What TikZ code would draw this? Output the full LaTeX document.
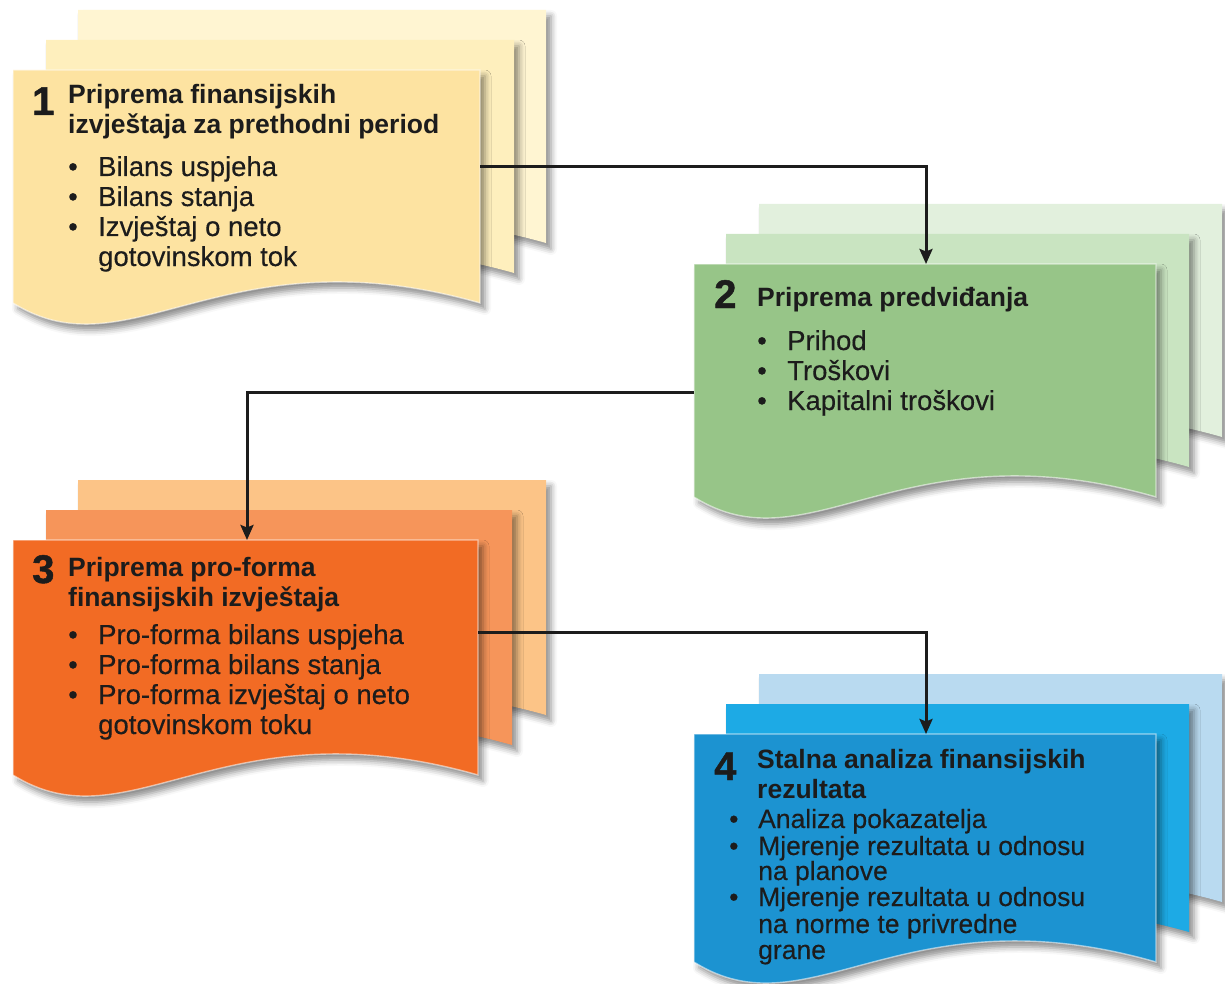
\documentclass[tikz,border=0pt]{standalone}
\usepackage{fontspec}
\setmainfont{Liberation Sans}
\newfontfamily\heavyfont[FakeBold=1.2]{Liberation Sans Bold}
\newfontfamily\itemfont[FakeBold=0.3]{Liberation Sans}
\usetikzlibrary{arrows.meta,calc,shadows.blur}

\definecolor{ylwA}{HTML}{FDE3A1}
\definecolor{ylwB}{HTML}{FEEFBD}
\definecolor{ylwC}{HTML}{FFF5D2}
\definecolor{grnA}{HTML}{97C588}
\definecolor{grnB}{HTML}{C9E4C1}
\definecolor{grnC}{HTML}{E2F0DD}
\definecolor{orgA}{HTML}{F26B24}
\definecolor{orgB}{HTML}{F6955A}
\definecolor{orgC}{HTML}{FCC487}
\definecolor{bluA}{HTML}{1C93D1}
\definecolor{bluB}{HTML}{1DAAE5}
\definecolor{bluC}{HTML}{B9DAF0}
\definecolor{txt}{HTML}{1C1C1C}

\tikzset{
  sheetshadow/.style={blur shadow={shadow xshift=5pt, shadow yshift=-6pt, shadow blur radius=6pt, shadow opacity=45}},
  frontedge/.style={draw=white, draw opacity=0.55, line width=1.4pt},
  ttl/.style={anchor=base west, inner sep=0pt, text=txt, align=left, font=\fontsize{26.5}{30}\bfseries\selectfont},
  itm/.style={anchor=base west, inner sep=0pt, text=txt, font=\fontsize{27.5}{30}\itemfont},
  itmsm/.style={anchor=base west, inner sep=0pt, text=txt, font=\fontsize{26.5}{26}\itemfont},
  num/.style={anchor=base west, inner sep=0pt, text=txt, font=\fontsize{40}{40}\heavyfont},
  conn/.style={draw=txt, line width=3pt, -{Stealth[length=15pt,width=13pt,inset=2.5pt]}},
  sheetbox/.style={draw=none, fill=none, inner sep=0pt, anchor=north west, minimum width=#1},
}

% x, y, w, h, colour, extra options
\newcommand{\docsheet}[6]{%
  \path[fill=#5, sheetshadow, #6] (#1,#2) -- ({#1+#3},#2) -- ({#1+#3},{#2+#4})
    .. controls ({#1+0.45*#3},{#2+#4-73}) and ({#1+0.25*#3},{#2+#4+73}) .. (#1,{#2+#4}) -- cycle;}
\newcommand{\bul}{\makebox[30pt][l]{•}}
\newcommand{\bulsm}{\makebox[29pt][l]{•}}

\begin{document}
\begin{tikzpicture}[x=1pt, y=-1pt]
\useasboundingbox (0,0) rectangle (1225,984);

% ---------- stack 1 (yellow)
\docsheet{78}{10}{468}{233}{ylwC}{}
\docsheet{46}{40}{468}{233}{ylwB}{}
\docsheet{13}{70}{467}{233}{ylwA}{frontedge}
\node[sheetbox=467pt, minimum height=233pt] (f1) at (13,70) {};

% ---------- stack 2 (green)
\docsheet{759}{204}{463}{233}{grnC}{}
\docsheet{726}{234}{463}{233}{grnB}{}
\docsheet{694}{264}{462}{233}{grnA}{frontedge}
\node[sheetbox=462pt, minimum height=233pt] (f2) at (694,264) {};

% ---------- stack 3 (orange)
\docsheet{78}{480}{468}{235}{orgC}{}
\docsheet{46}{510}{466}{235}{orgB}{}
\docsheet{13}{540}{465}{235}{orgA}{frontedge}
\node[sheetbox=465pt, minimum height=235pt] (f3) at (13,540) {};

% ---------- stack 4 (blue)
\docsheet{759}{674}{463}{228}{bluC}{}
\docsheet{726}{704}{463}{228}{bluB}{}
\docsheet{694}{734}{462}{228}{bluA}{frontedge}
\node[sheetbox=462pt, minimum height=228pt] (f4) at (694,734) {};

% ---------- texts 1
\node[num] (n1) at (32,115) {1};
\node[ttl] (t1) at (68,134) {Priprema finansijskih\\izvještaja za prethodni period};
\node[itm] (i1a) at (68,176) {\bul Bilans uspjeha};
\node[itm] (i1b) at (68,206) {\bul Bilans stanja};
\node[itm] (i1c) at (68,236) {\bul Izvještaj o neto};
\node[itm] (i1d) at (98,266) {gotovinskom tok};

% ---------- texts 2
\node[num] (n2) at (714,308) {2};
\node[ttl] (t2) at (757,306) {Priprema predviđanja};
\node[itm] (i2a) at (757,350) {\bul Prihod};
\node[itm] (i2b) at (757,380) {\bul Troškovi};
\node[itm] (i2c) at (757,410) {\bul Kapitalni troškovi};

% ---------- texts 3
\node[num] (n3) at (32,583) {3};
\node[ttl] (t3) at (68,606) {Priprema pro-forma\\finansijskih izvještaja};
\node[itm] (i3a) at (68,644) {\bul Pro-forma bilans uspjeha};
\node[itm] (i3b) at (68,674) {\bul Pro-forma bilans stanja};
\node[itm] (i3c) at (68,704) {\bul Pro-forma izvještaj o neto};
\node[itm] (i3d) at (98,734) {gotovinskom toku};

% ---------- texts 4
\node[num] (n4) at (714,780) {4};
\node[ttl] (t4) at (757,798) {Stalna analiza finansijskih\\rezultata};
\node[itmsm] (i4a) at (729,828) {\bulsm Analiza pokazatelja};
\node[itmsm] (i4b) at (729,855) {\bulsm Mjerenje rezultata u odnosu};
\node[itmsm] (i4c) at (758,880) {na planove};
\node[itmsm] (i4d) at (729,906) {\bulsm Mjerenje rezultata u odnosu};
\node[itmsm] (i4e) at (758,933) {na norme te privredne};
\node[itmsm] (i4f) at (758,959) {grane};

% ---------- connectors
\draw[conn] ($(f1.north east)+(0,97)$) -| ($(f2.north west)+(232,0)$);
\draw[conn] ($(f2.north west)+(0,128)$) -| ($(f3.north west)+(234,0)$);
\draw[conn] ($(f3.north east)+(0,92)$) -| ($(f4.north west)+(232,0)$);
\end{tikzpicture}
\end{document}
